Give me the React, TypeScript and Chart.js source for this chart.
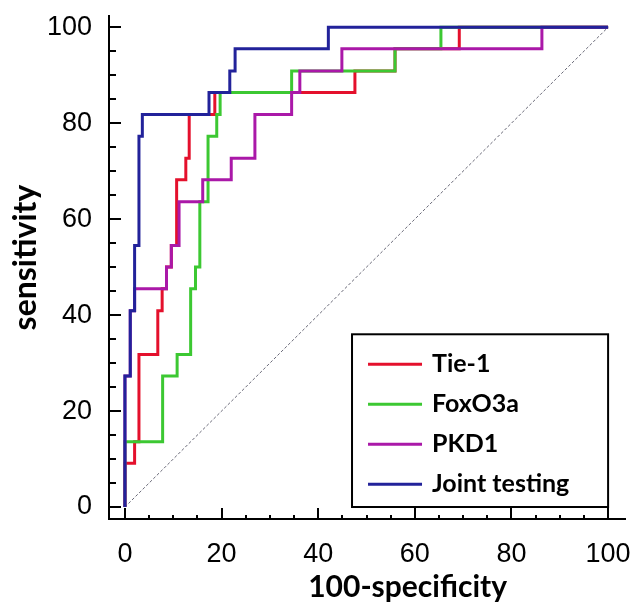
import React, { useEffect, useRef } from "react";
import { Chart, registerables } from "chart.js";

Chart.register(...registerables);

// ---- data ----
const tickValues = [0, 20, 40, 60, 80, 100];
const minorStep = 5;
const xTitle = "100-specificity";
const yTitle = "sensitivity";
const seriesNames = ["Tie-1", "FoxO3a", "PKD1", "Joint testing"];
const seriesColors = ["#e4102c", "#3cc832", "#aa18a8", "#22229a"];

// ROC operating points: 100-specificity (x) and sensitivity (y)
const tie1Fpr = [0, 0, 2, 2.9, 6.8, 7.7, 8.6, 9.6, 10.7, 12.6, 13.3, 18.6, 47.6, 55.9, 69.2, 100];
const tie1Sens = [0, 9.1, 13.6, 31.8, 40.9, 45.5, 50, 54.5, 68.2, 72.7, 81.8, 86.4, 90.9, 95.5, 100, 100];

const foxFpr = [0, 0, 7.8, 10.8, 13.6, 14.6, 15.5, 17.2, 19.0, 19.7, 34.5, 55.9, 65.4, 100];
const foxSens = [0, 13.6, 27.3, 31.8, 45.5, 50, 63.6, 77.3, 81.8, 86.4, 90.9, 95.5, 100, 100];

const pkdFpr = [0, 0, 1.1, 2, 8.6, 9.6, 11.2, 16.1, 22, 26.9, 34.5, 36.2, 44.9, 86.3, 100];
const pkdSens = [0, 27.3, 40.9, 45.5, 50, 54.5, 63.6, 68.2, 72.7, 81.8, 86.4, 90.9, 95.5, 100, 100];

const jointFpr = [0, 0, 1.1, 2, 2.9, 3.6, 17.4, 21.7, 22.8, 42.1, 100];
const jointSens = [0, 27.3, 40.9, 54.5, 77.3, 81.8, 86.4, 90.9, 95.5, 100, 100];

const refFpr = [0, 100];
const refSens = [0, 100];

const toPoints = (xs: number[], ys: number[]) => xs.map((x, i) => ({ x, y: ys[i] }));

const TITLE_FONT = "Lato, 'Open Sans', sans-serif";
const TICK_FONT = "'Liberation Sans', Arial, sans-serif";

const axisMarks = {
  id: "axisMarks",
  afterDraw(chart: any) {
    const { ctx, chartArea, scales } = chart;
    const x = scales.x;
    const y = scales.y;
    ctx.save();
    ctx.strokeStyle = "#000";
    ctx.lineWidth = 2;
    for (let v = tickValues[0]; v <= tickValues[tickValues.length - 1]; v += minorStep) {
      const major = tickValues.includes(v);
      const px = Math.round(x.getPixelForValue(v));
      ctx.beginPath();
      ctx.moveTo(px, chartArea.bottom);
      ctx.lineTo(px, chartArea.bottom - (major ? 11 : 4));
      ctx.stroke();
      const py = Math.round(y.getPixelForValue(v));
      ctx.beginPath();
      ctx.moveTo(chartArea.left, py);
      ctx.lineTo(chartArea.left + (major ? 12 : 7), py);
      ctx.stroke();
    }
    // axis titles
    ctx.fillStyle = "#000";
    ctx.textAlign = "center";
    ctx.textBaseline = "middle";
    ctx.font = `bold 30px ${TITLE_FONT}`;
    ctx.fillText(xTitle, x.getPixelForValue(58.5), chartArea.bottom + 68);
    ctx.save();
    ctx.translate(chartArea.left - 83, y.getPixelForValue(52));
    ctx.rotate(-Math.PI / 2);
    ctx.font = `bold 32px ${TITLE_FONT}`;
    ctx.fillText(yTitle, 0, 0);
    ctx.restore();
    ctx.restore();
  },
};

const boxLegend = {
  id: "boxLegend",
  afterDraw(chart: any) {
    const { ctx, scales } = chart;
    const x = scales.x;
    const y = scales.y;
    const left = x.getPixelForValue(47);
    const right = x.getPixelForValue(100);
    const top = y.getPixelForValue(36);
    const bottom = y.getPixelForValue(0);
    ctx.save();
    ctx.fillStyle = "#fff";
    ctx.fillRect(left, top, right - left, bottom - top);
    ctx.strokeStyle = "#000";
    ctx.lineWidth = 2;
    ctx.strokeRect(left, top, right - left, bottom - top);
    ctx.font = `bold 25px ${TITLE_FONT}`;
    ctx.textBaseline = "middle";
    ctx.textAlign = "left";
    seriesNames.forEach((name, i) => {
      const cy = top + 30 + i * 40;
      ctx.strokeStyle = seriesColors[i];
      ctx.lineWidth = 3;
      ctx.beginPath();
      ctx.moveTo(left + 16, cy);
      ctx.lineTo(left + 70, cy);
      ctx.stroke();
      ctx.fillStyle = "#000";
      ctx.fillText(name, left + 80, cy);
    });
    ctx.restore();
  },
};

export default function App() {
  const ref = useRef<HTMLCanvasElement | null>(null);

  useEffect(() => {
    if (!ref.current) return;
    const series = [
      [tie1Fpr, tie1Sens],
      [foxFpr, foxSens],
      [pkdFpr, pkdSens],
      [jointFpr, jointSens],
    ];
    const datasets: any[] = series.map(([xs, ys], i) => ({
      label: seriesNames[i],
      data: toPoints(xs, ys),
      borderColor: seriesColors[i],
      backgroundColor: seriesColors[i],
      borderWidth: 3,
      pointRadius: 0,
      stepped: "before",
      fill: false,
      order: 4 - i,
    }));
    datasets.push({
      label: "reference",
      data: toPoints(refFpr, refSens),
      borderColor: "#6a6a78",
      borderWidth: 1,
      borderDash: [3, 2],
      pointRadius: 0,
      fill: false,
      order: 10,
    });

    const chart = new Chart(ref.current, {
      type: "line",
      data: { datasets },
      options: {
        responsive: false,
        animation: false,
        maintainAspectRatio: false,
        layout: { padding: { top: 13, right: 11, left: 0, bottom: 0 } },
        plugins: { legend: { display: false }, tooltip: { enabled: false } },
        scales: {
          x: {
            type: "linear",
            min: -3.3,
            max: 103.5,
            grid: { display: false, drawTicks: true, tickLength: 19, tickColor: "rgba(0,0,0,0)" },
            border: { display: true, color: "#000", width: 2 },
            ticks: {
              stepSize: 20,
              includeBounds: false,
              autoSkip: false,
              maxRotation: 0,
              padding: 0,
              color: "#000",
              font: { family: TICK_FONT, size: 27 },
            },
            afterFit: (s: any) => {
              s.height = 90;
            },
          },
          y: {
            type: "linear",
            min: -2.5,
            max: 102.3,
            grid: { display: false, drawTicks: true, tickLength: 17, tickColor: "rgba(0,0,0,0)" },
            border: { display: true, color: "#000", width: 2 },
            ticks: {
              stepSize: 20,
              includeBounds: false,
              autoSkip: false,
              padding: 0,
              color: "#000",
              font: { family: TICK_FONT, size: 27 },
            },
            afterFit: (s: any) => {
              s.width = 109;
            },
          },
        },
      } as any,
      plugins: [axisMarks, boxLegend],
    });
    return () => chart.destroy();
  }, []);

  return (
    <div style={{ position: "fixed", left: 0, top: 0, width: 636, height: 609, background: "#fff" }}>
      <canvas ref={ref} width={636} height={609} style={{ width: 636, height: 609, display: "block" }} />
    </div>
  );
}
